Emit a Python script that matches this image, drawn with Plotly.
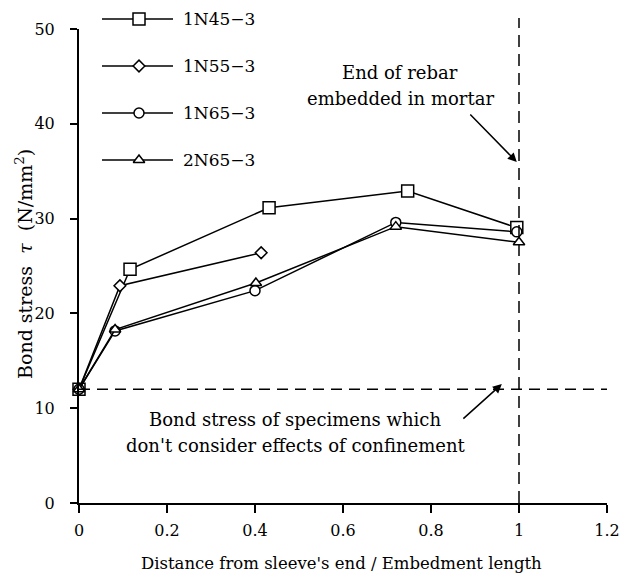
import plotly.graph_objects as go

# ---------------- data ----------------
series_names = ["1N45−3", "1N55−3", "1N65−3", "2N65−3"]
series_symbols = ["square", "diamond", "circle", "triangle-up"]

x_1n45 = [0.0, 0.116, 0.432, 0.747, 0.995]
y_1n45 = [12.0, 24.65, 31.15, 32.9, 29.05]

x_1n55 = [0.0, 0.093, 0.414]
y_1n55 = [12.0, 22.92, 26.4]

x_1n65 = [0.0, 0.082, 0.400, 0.720, 0.995]
y_1n65 = [12.0, 18.15, 22.4, 29.6, 28.6]

x_2n65 = [0.0, 0.082, 0.402, 0.720, 1.0]
y_2n65 = [12.0, 18.3, 23.2, 29.15, 27.5]

x_ticks = [0, 0.2, 0.4, 0.6, 0.8, 1.0, 1.2]
x_ticktext = ["0", "0.2", "0.4", "0.6", "0.8", "1", "1.2"]
y_ticks = [0, 10, 20, 30, 40, 50]

ref_bond_stress = 12.0      # unconfined specimens
embed_end = 1.0             # end of rebar

x_title = "Distance from sleeve's end / Embedment length"
y_title = "Bond stress\u00a0\u00a0<i>τ</i>\u00a0\u00a0(N/mm<sup>2</sup>)"

# ---------------- style ----------------
FONT = "DejaVu Serif"
marker_sizes = [12, 9, 10, 10]
W, H = 624, 579
# pixel geometry of the plot area
PX_LEFT, PX_RIGHT, PX_TOP50, PX_BOTTOM = 79, 607, 29, 503
ML = PX_LEFT
MR = W - PX_RIGHT
MT = 4
MB = H - PX_BOTTOM
plot_w = W - ML - MR
plot_h = H - MT - MB


def px_to_paper(px, py):
    return (px - ML) / plot_w, (H - MB - py) / plot_h


xs = [x_1n45, x_1n55, x_1n65, x_2n65]
ys = [y_1n45, y_1n55, y_1n65, y_2n65]

fig = go.Figure()
for name, sym, sz, xv, yv in zip(series_names, series_symbols, marker_sizes, xs, ys):
    fig.add_trace(go.Scatter(
        x=xv, y=yv, mode="lines+markers", name=name, showlegend=False,
        line=dict(color="black", width=1.5),
        marker=dict(symbol=sym, size=sz, color="white",
                    line=dict(color="black", width=1.5)),
        cliponaxis=False, xaxis="x", yaxis="y",
    ))

# manual legend on a pixel-coordinate overlay subplot
leg_rows = [19, 66, 113, 160]
leg_x0, leg_xm, leg_x1, leg_tx = 102, 139, 173, 181
for name, sym, sz, ry in zip(series_names, series_symbols, marker_sizes, leg_rows):
    fig.add_trace(go.Scatter(
        x=[leg_x0, leg_x1], y=[ry, ry], mode="lines", showlegend=False,
        line=dict(color="black", width=1.5), xaxis="x2", yaxis="y2",
        hoverinfo="skip", cliponaxis=False,
    ))
    fig.add_trace(go.Scatter(
        x=[leg_xm], y=[ry], mode="markers", showlegend=False,
        marker=dict(symbol=sym, size=sz, color="white",
                    line=dict(color="black", width=1.5)),
        xaxis="x2", yaxis="y2", hoverinfo="skip", cliponaxis=False,
    ))

annotations = []
for name, ry in zip(series_names, leg_rows):
    annotations.append(dict(
        x=leg_tx, y=ry, xref="x2", yref="y2", text=name, showarrow=False,
        xanchor="left", yanchor="middle", font=dict(family=FONT, size=17, color="black"),
    ))

# text notes
notes = [
    ("End of rebar", 400, 72),
    ("embedded in mortar", 400, 98),
    ("Bond stress of specimens which", 295, 419),
    ("don't consider effects of confinement", 296, 445),
]
for txt, nx, ny in notes:
    annotations.append(dict(
        x=nx, y=ny, xref="x2", yref="y2", text=txt, showarrow=False,
        xanchor="center", yanchor="middle", font=dict(family=FONT, size=18, color="black"),
    ))

# axis titles (paper coordinates so they may sit in the margins)
ytx, yty = px_to_paper(24, 264)
annotations.append(dict(
    x=ytx, y=yty, xref="paper", yref="paper", text=y_title, showarrow=False, textangle=-90,
    xanchor="center", yanchor="middle", font=dict(family=FONT, size=19, color="black"),
))
xtx, xty = px_to_paper(341, 563)
annotations.append(dict(
    x=xtx, y=xty, xref="paper", yref="paper", text=x_title, showarrow=False,
    xanchor="center", yanchor="middle", font=dict(family=FONT, size=16.5, color="black"),
))

# arrows
annotations.append(dict(
    x=0.995, y=35.97, xref="x", yref="y", ax=-48, ay=-49, text="",
    showarrow=True, arrowhead=2, arrowsize=1.2, arrowwidth=1.5, arrowcolor="black", standoff=0,
))
annotations.append(dict(
    x=0.961, y=12.55, xref="x", yref="y", ax=-40, ay=36, text="",
    showarrow=True, arrowhead=2, arrowsize=1.2, arrowwidth=1.5, arrowcolor="black", standoff=0,
))

ydom_top = (PX_BOTTOM - PX_TOP50) / plot_h
vline_top = (PX_BOTTOM - 18) / plot_h

shapes = [
    dict(type="line", xref="x", yref="y", x0=0, x1=1.2, y0=ref_bond_stress, y1=ref_bond_stress,
         line=dict(color="black", width=1.5, dash="11px,7px")),
    dict(type="line", xref="x", yref="paper", x0=embed_end, x1=embed_end, y0=0, y1=vline_top,
         line=dict(color="black", width=1.5, dash="12px,7px")),
]

fig.update_layout(
    width=W, height=H,
    margin=dict(l=ML, r=MR, t=MT, b=MB, autoexpand=False),
    paper_bgcolor="white", plot_bgcolor="rgba(0,0,0,0)",
    font=dict(family=FONT, color="black"),
    showlegend=False,
    xaxis=dict(
        domain=[0, 1], range=[0, 1.2], tickvals=x_ticks, ticktext=x_ticktext,
        showline=True, linecolor="black", linewidth=2, ticks="outside", ticklen=8,
        tickwidth=1.5, tickcolor="black", showgrid=False, zeroline=False,
        tickfont=dict(family=FONT, size=16, color="black"), ticklabelstandoff=4,
        anchor="y", fixedrange=True, automargin=False,
    ),
    yaxis=dict(
        domain=[0, ydom_top], range=[0, 50], tickvals=y_ticks,
        showline=True, linecolor="black", linewidth=2, ticks="outside", ticklen=7,
        tickwidth=1.5, tickcolor="black", showgrid=False, zeroline=False,
        tickfont=dict(family=FONT, size=16, color="black"), ticklabelstandoff=12,
        anchor="x", fixedrange=True, automargin=False,
    ),
    xaxis2=dict(domain=[0, 1], range=[PX_LEFT, PX_RIGHT], visible=False, anchor="y2", fixedrange=True),
    yaxis2=dict(domain=[0, 1], range=[PX_BOTTOM, MT], visible=False, anchor="x2", fixedrange=True),
    shapes=shapes,
    annotations=annotations,
)

fig.write_html(
    "out.html",
    config={"displayModeBar": False},
    post_script="document.body.style.margin='0';document.body.style.overflow='hidden';",
)
